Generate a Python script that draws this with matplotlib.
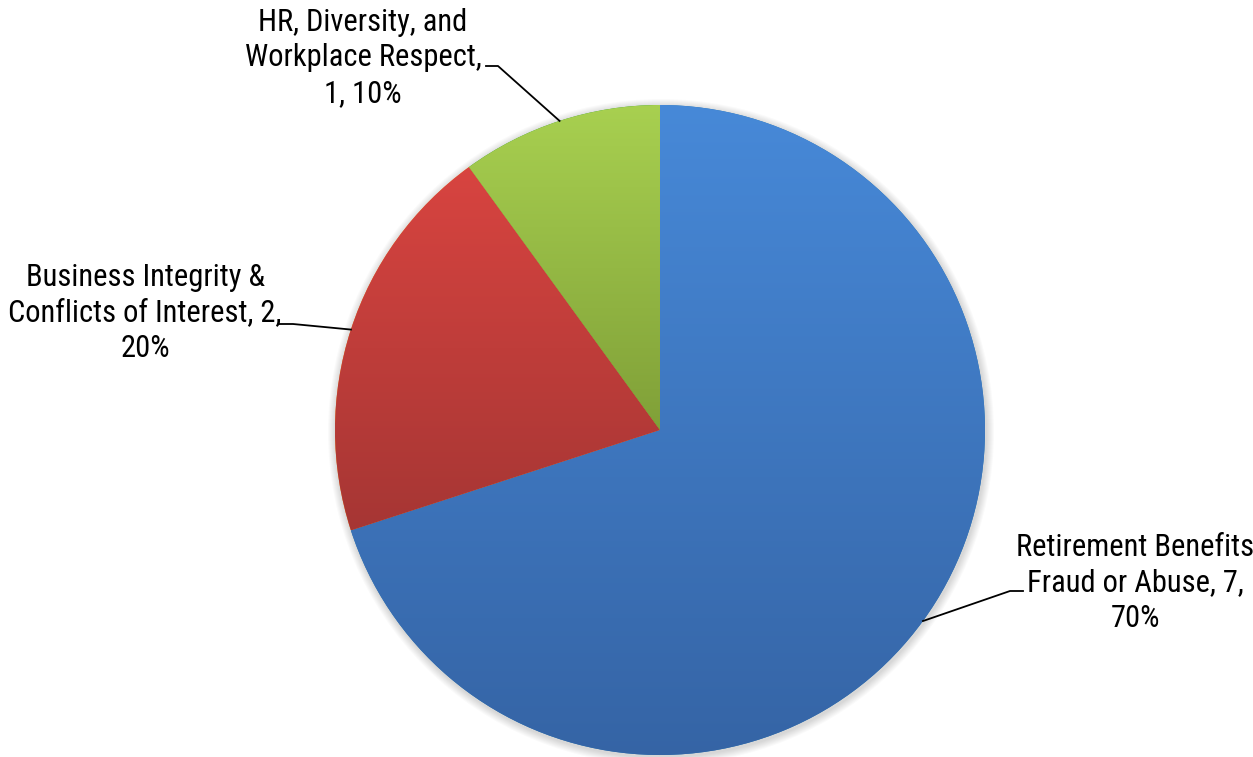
import numpy as np
import matplotlib.pyplot as plt
from matplotlib.colors import LinearSegmentedColormap

names = ['Retirement Benefits Fraud or Abuse', 'Business Integrity & Conflicts of Interest', 'HR, Diversity, and Workplace Respect']
counts = [7, 2, 1]
top_colors = ['#4789D8', '#D84440', '#A8D050']
bottom_colors = ['#3564A5', '#A63634', '#80A038']
# label text as wrapped in the picture
labels = ['Retirement Benefits\nFraud or Abuse, 7,\n70%',
          'Business Integrity &\nConflicts of Interest, 2,\n20%',
          'HR, Diversity, and\nWorkplace Respect,\n1, 10%']

fam = ['Roboto Condensed', 'DejaVu Sans']

W, H = 1253, 757
fig = plt.figure(figsize=(W / 100, H / 100), dpi=100)
ax = fig.add_axes([0, 0, 1, 1])

cx, cy, r = 660, H - 430, 325

# soft shadow behind the pie
for i in range(8):
    c = plt.Circle((cx + 1, cy - 2), r + 8 - i, color='black', alpha=0.018, lw=0, zorder=1)
    ax.add_patch(c)

wedges, _ = ax.pie(counts, startangle=90, counterclock=False, center=(cx, cy), radius=r,
                   wedgeprops=dict(linewidth=0, edgecolor='none'), frame=True)
ax.set_xlim(0, W)
ax.set_ylim(0, H)
ax.set_aspect('equal')
ax.axis('off')

# vertical gradient in each wedge
for w, c0, c1 in zip(wedges, top_colors, bottom_colors):
    w.set_zorder(2)
    verts = w.get_transform().transform(w.get_path().vertices)
    verts = ax.transData.inverted().transform(verts)
    x0, x1 = verts[:, 0].min(), verts[:, 0].max()
    y0, y1 = verts[:, 1].min(), verts[:, 1].max()
    cmap = LinearSegmentedColormap.from_list('g', [c1, c0])
    grad = np.linspace(0, 1, 256).reshape(-1, 1)
    im = ax.imshow(grad, cmap=cmap, origin='lower', extent=[x0, x1, y0, y1],
                   aspect='auto', zorder=3, interpolation='bilinear')
    im.set_clip_path(w)

label_pos = [(1135, H - 583), (145, H - 313), (363, H - 58)]
line_start = [(1023, H - 591), (279, H - 324), (486, H - 66)]
line_len = [-13, 14, 12]

for i, w in enumerate(wedges):
    ang = np.deg2rad((w.theta1 + w.theta2) / 2)
    px, py = cx + r * np.cos(ang), cy + r * np.sin(ang)
    ax.text(label_pos[i][0], label_pos[i][1], labels[i], ha='center', va='center',
            fontsize=22, family=fam, linespacing=1.27, color='black', zorder=5)
    sx, sy = line_start[i]
    ax.plot([sx, sx + line_len[i], px], [sy, sy, py], color='black', lw=1.3, zorder=4)

plt.savefig('out.png', dpi=100)
